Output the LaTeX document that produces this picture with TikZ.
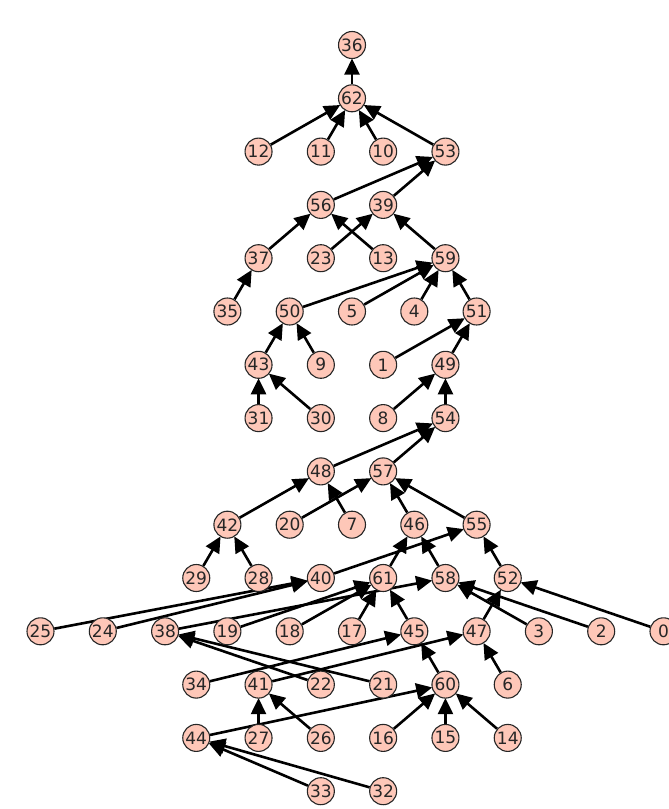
\documentclass[tikz,border=0pt]{standalone}
\usepackage{fontspec}
\setmainfont{DejaVu Sans}
\usetikzlibrary{arrows.meta}
\pgfdeclarelayer{edges}
\pgfsetlayers{edges,main}
\definecolor{vfill}{HTML}{FEC7B8}
\definecolor{vtext}{HTML}{262626}
\newcommand\Vx[3]{\node[vtx] (n#1) at ({352+31.15*(#2)},{45+53.3*(#3)}) {#1};}
\newcommand\Ed[2]{\draw[edg] (n#1) -- (n#2);}
\begin{document}
\begin{tikzpicture}[x=1pt,y=-1pt,
  vtx/.style={circle,draw=black!85,line width=1.1pt,fill=vfill,inner sep=0pt,minimum size=27pt,
    text=vtext,font=\fontsize{17}{17}\selectfont},
  edg/.style={line width=2.6pt,black,-{Triangle[length=16pt,width=15pt]},shorten >=-0.5pt}]
\useasboundingbox (0,0) rectangle (669,809);
% row 0-1
\Vx{36}{0}{0}
\Vx{62}{0}{1}
% row 2
\Vx{12}{-3}{2}\Vx{11}{-1}{2}\Vx{10}{1}{2}\Vx{53}{3}{2}
% row 3
\Vx{56}{-1}{3}\Vx{39}{1}{3}
% row 4
\Vx{37}{-3}{4}\Vx{23}{-1}{4}\Vx{13}{1}{4}\Vx{59}{3}{4}
% row 5
\Vx{35}{-4}{5}\Vx{50}{-2}{5}\Vx{5}{0}{5}\Vx{4}{2}{5}\Vx{51}{4}{5}
% row 6
\Vx{43}{-3}{6}\Vx{9}{-1}{6}\Vx{1}{1}{6}\Vx{49}{3}{6}
% row 7
\Vx{31}{-3}{7}\Vx{30}{-1}{7}\Vx{8}{1}{7}\Vx{54}{3}{7}
% row 8
\Vx{48}{-1}{8}\Vx{57}{1}{8}
% row 9
\Vx{42}{-4}{9}\Vx{20}{-2}{9}\Vx{7}{0}{9}\Vx{46}{2}{9}\Vx{55}{4}{9}
% row 10
\Vx{29}{-5}{10}\Vx{28}{-3}{10}\Vx{40}{-1}{10}\Vx{61}{1}{10}\Vx{58}{3}{10}\Vx{52}{5}{10}
% row 11
\Vx{25}{-10}{11}\Vx{24}{-8}{11}\Vx{38}{-6}{11}\Vx{19}{-4}{11}\Vx{18}{-2}{11}\Vx{17}{0}{11}
\Vx{45}{2}{11}\Vx{47}{4}{11}\Vx{3}{6}{11}\Vx{2}{8}{11}\Vx{0}{10}{11}
% row 12
\Vx{34}{-5}{12}\Vx{41}{-3}{12}\Vx{22}{-1}{12}\Vx{21}{1}{12}\Vx{60}{3}{12}\Vx{6}{5}{12}
% row 13
\Vx{44}{-5}{13}\Vx{27}{-3}{13}\Vx{26}{-1}{13}\Vx{16}{1}{13}\Vx{15}{3}{13}\Vx{14}{5}{13}
% row 14
\Vx{33}{-1}{14}\Vx{32}{1}{14}
\begin{pgfonlayer}{edges}
\Ed{62}{36}
\Ed{12}{62}\Ed{11}{62}\Ed{10}{62}\Ed{53}{62}
\Ed{56}{53}\Ed{39}{53}
\Ed{37}{56}\Ed{13}{56}\Ed{23}{39}\Ed{59}{39}
\Ed{35}{37}
\Ed{50}{59}\Ed{5}{59}\Ed{4}{59}\Ed{51}{59}
\Ed{43}{50}\Ed{9}{50}\Ed{1}{51}\Ed{49}{51}
\Ed{31}{43}\Ed{30}{43}\Ed{8}{49}\Ed{54}{49}
\Ed{48}{54}\Ed{57}{54}
\Ed{42}{48}\Ed{7}{48}\Ed{20}{57}\Ed{46}{57}\Ed{55}{57}
\Ed{29}{42}\Ed{28}{42}\Ed{61}{46}\Ed{58}{46}\Ed{40}{55}\Ed{52}{55}
\Ed{25}{40}\Ed{24}{40}\Ed{38}{58}\Ed{19}{61}\Ed{18}{61}\Ed{17}{61}\Ed{45}{61}
\Ed{3}{58}\Ed{2}{58}\Ed{47}{52}\Ed{0}{52}
\Ed{34}{45}\Ed{60}{45}\Ed{41}{47}\Ed{6}{47}\Ed{22}{38}\Ed{21}{38}
\Ed{27}{41}\Ed{26}{41}\Ed{44}{60}\Ed{16}{60}\Ed{15}{60}\Ed{14}{60}
\Ed{33}{44}\Ed{32}{44}
\end{pgfonlayer}
\end{tikzpicture}
\end{document}
